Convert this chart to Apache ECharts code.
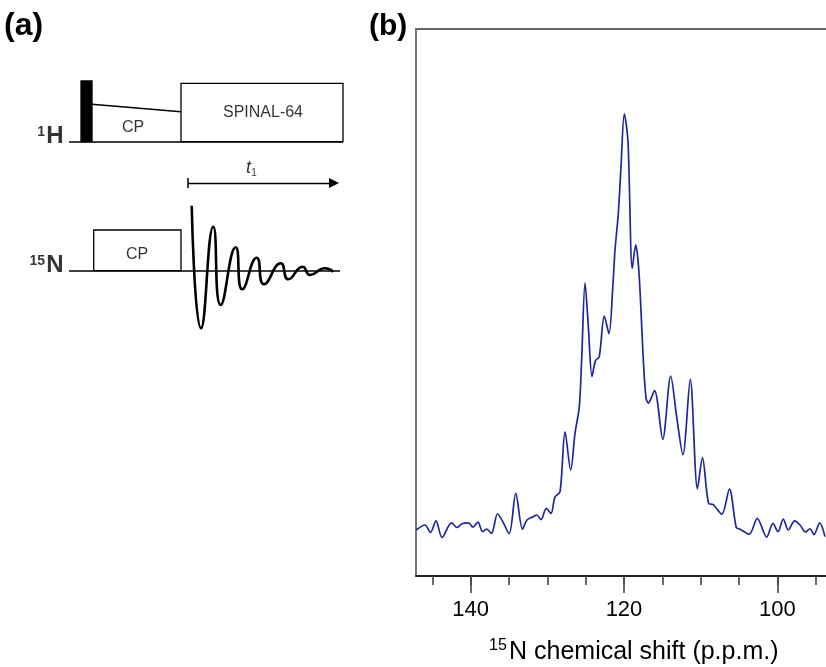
<!DOCTYPE html>
<html><head><meta charset="utf-8">
<script src="https://cdn.jsdelivr.net/npm/echarts@6/dist/echarts.min.js"></script>
<style>html,body{margin:0;padding:0;background:#fff}#c{width:826px;height:667px}</style>
</head><body><div id="c"></div>
<script>
// ---------- Panel (b): 15N CP spectrum ----------
const shiftPpm = [147.1,145.95,145.23,144.51,143.73,142.49,141.77,141.12,140.27,139.69,
  139.04,138.45,137.93,137.28,136.49,135.78,134.97,134.11,133.23,132.65,
  131.83,131.38,130.82,130.13,129.52,129.0,128.34,127.69,126.95,126.39,
  125.83,125.52,125.08,124.65,124.17,123.72,123.23,122.57,121.96,121.43,
  121.17,120.74,120.39,119.96,119.48,118.92,118.47,118.04,117.48,117.13,
  116.83,116.02,114.95,113.91,113.13,112.32,111.36,110.42,109.77,108.98,
  108.36,107.26,106.25,105.36,104.88,103.66,102.62,101.4,100.57,99.92,
  99.23,98.58,97.74,97.05,96.34,95.75,95.23,94.48,93.79];
const intensity = [0.0,1.2,-0.6,2.2,-1.8,1.7,0.6,1.5,1.7,0.7,
  1.9,-0.4,0.2,-0.8,3.9,1.9,-0.9,8.8,0.2,2.4,
  3.2,3.6,2.5,5.2,4.0,7.9,9.2,23.6,14.4,23.2,
  29.6,40.9,59.4,48.9,36.9,40.7,41.6,51.4,47.2,59.4,
  67.3,76.1,87.3,100,93.3,62.9,68.5,61.7,40.9,31.7,
  30.5,33.5,21.8,37.0,27.2,18.1,36.2,9.9,17.4,6.4,
  6.1,3.8,9.8,0.6,0.2,-1.0,2.8,-1.7,1.6,-0.4,
  2.6,0.0,2.2,1.2,-0.5,0.3,-1.1,1.7,-1.6];
const majorTicks = [100, 120, 140];
const minorTicks = [95, 100, 105, 110, 115, 120, 125, 130, 135, 140, 145];
const shiftRange = [93.66, 147.12];
const intensityRange = [-11.06, 120.4];

// ---------- Panel (a): pulse sequence schematic (diagram units) ----------
const channelLines = [   // [x0, y0, x1, y1]
  [69, 141.7, 343, 141.7],   // 1H channel
  [69, 270.7, 340, 270.7],   // 15N channel
  [92, 104.3, 181, 111.7],   // 1H CP ramp
  [188, 178, 188, 188]       // t1 start bar
];
const t1Arrow = [188, 183, 334, 183];
const pulseBoxes = [     // [x0, y0, x1, y1, filled]
  [81, 81, 92, 141.7, 1],     // 90 degree pulse
  [181, 83.3, 343, 141.7, 0], // SPINAL-64 decoupling
  [93.7, 230, 181, 270.7, 0]  // 15N CP
];
const fidTrace = [[191.7,205.7],[201,328.3],[213.3,226.7],[220.7,305],[235.7,247.3],
  [242.3,289.3],[256.7,257.7],[264,284.3],[280.7,263.3],[288.3,279.3],
  [302.7,266.7],[310,275],[325,268.3],[333.3,271.7]];
const schematicText = [  // [text, x, y, kind]
  ['CP', 133, 128, 'box'],
  ['SPINAL-64', 263, 113, 'box'],
  ['CP', 137, 255, 'box'],
  ['H', 63.5, 136, 'nucleus'],
  ['1', 45, 132, 'sup'],
  ['N', 63.5, 265.5, 'nucleus'],
  ['15', 45, 261.5, 'sup'],
  ['t', 248.5, 168, 'tvar'],
  ['1', 254, 173.5, 'sub']
];

const FONT = '"Liberation Sans", Arial, Helvetica, sans-serif';
const kindStyle = {
  box: {fontSize: 16, fontWeight: 'normal', fontStyle: 'normal', align: 'center'},
  nucleus: {fontSize: 24, fontWeight: 'bold', fontStyle: 'normal', align: 'right'},
  sup: {fontSize: 14, fontWeight: 'bold', fontStyle: 'normal', align: 'right'},
  tvar: {fontSize: 18, fontWeight: 'normal', fontStyle: 'italic', align: 'center'},
  sub: {fontSize: 10, fontWeight: 'normal', fontStyle: 'normal', align: 'center'}
};

const chart = echarts.init(document.getElementById('c'), null, {renderer: 'canvas'});

const specData = shiftPpm.map((s, i) => [s, intensity[i]]);

const option = {
  backgroundColor: '#fff',
  animation: false,
  grid: [
    {left: 416, top: 29, width: 410, height: 547, containLabel: false},
    {left: 0, top: 0, width: 400, height: 340, containLabel: false}
  ],
  xAxis: [
    { // bottom axis with minor ticks
      gridIndex: 0, type: 'value', position: 'bottom', inverse: true,
      min: shiftRange[0], max: shiftRange[1],
      axisLine: {show: true, onZero: false, lineStyle: {color: '#222', width: 1.8}},
      axisTick: {show: true, customValues: minorTicks, length: 9, lineStyle: {color: '#444', width: 1.6}},
      axisLabel: {show: false}, splitLine: {show: false}
    },
    { // major ticks and labels
      gridIndex: 0, type: 'value', position: 'bottom', inverse: true,
      min: shiftRange[0], max: shiftRange[1],
      axisLine: {show: false, onZero: false},
      axisTick: {show: true, customValues: majorTicks, length: 17, lineStyle: {color: '#444', width: 1.6}},
      axisLabel: {show: true, customValues: majorTicks, margin: 23, fontSize: 22, color: '#000', fontFamily: FONT},
      splitLine: {show: false}
    },
    { // top frame line
      gridIndex: 0, type: 'value', position: 'top', inverse: true,
      min: shiftRange[0], max: shiftRange[1],
      axisLine: {show: true, onZero: false, lineStyle: {color: '#666', width: 1.8}},
      axisTick: {show: false}, axisLabel: {show: false}, splitLine: {show: false}
    },
    { // schematic
      gridIndex: 1, type: 'value', min: 0, max: 400, show: false
    }
  ],
  yAxis: [
    {
      gridIndex: 0, type: 'value', min: intensityRange[0], max: intensityRange[1],
      axisLine: {show: true, onZero: false, lineStyle: {color: '#666', width: 1.8}},
      axisTick: {show: false}, axisLabel: {show: false}, splitLine: {show: false}
    },
    {
      gridIndex: 1, type: 'value', min: 0, max: 340, inverse: true, show: false
    }
  ],
  series: [
    {
      type: 'line', xAxisIndex: 0, yAxisIndex: 0, data: specData,
      smooth: 0.3, symbol: 'none', clip: true,
      lineStyle: {color: '#20279b', width: 1.7}
    },
    {
      type: 'custom', xAxisIndex: 3, yAxisIndex: 1, data: pulseBoxes, z: 2,
      renderItem: function (params, api) {
        const p0 = api.coord([api.value(0), api.value(1)]);
        const p1 = api.coord([api.value(2), api.value(3)]);
        const filled = api.value(4) === 1;
        return {
          type: 'rect',
          shape: {x: p0[0], y: p0[1], width: p1[0] - p0[0], height: p1[1] - p0[1]},
          style: {fill: filled ? '#000' : '#fff', stroke: '#000', lineWidth: 1.3}
        };
      }
    },
    {
      type: 'lines', coordinateSystem: 'cartesian2d', xAxisIndex: 3, yAxisIndex: 1, z: 3,
      polyline: false, symbol: 'none',
      data: channelLines.map(l => ({coords: [[l[0], l[1]], [l[2], l[3]]]})),
      lineStyle: {color: '#000', width: 1.5, opacity: 1, curveness: 0}
    },
    {
      type: 'lines', coordinateSystem: 'cartesian2d', xAxisIndex: 3, yAxisIndex: 1, z: 3,
      polyline: false, symbol: ['none', 'triangle'], symbolSize: [0, 10],
      data: [{coords: [[t1Arrow[0], t1Arrow[1]], [t1Arrow[2], t1Arrow[3]]]}],
      lineStyle: {color: '#000', width: 1.3, opacity: 1, curveness: 0}
    },
    {
      type: 'line', xAxisIndex: 3, yAxisIndex: 1, data: fidTrace, z: 3,
      smooth: 0.55, symbol: 'none',
      lineStyle: {color: '#000', width: 2.6}
    },
    {
      type: 'scatter', xAxisIndex: 3, yAxisIndex: 1, symbolSize: 0, z: 4,
      data: schematicText.map(t => {
        const k = kindStyle[t[3]];
        return {
          value: [t[1], t[2]],
          label: {
            show: true, position: 'inside', formatter: t[0],
            fontFamily: FONT, fontSize: k.fontSize, fontWeight: k.fontWeight,
            fontStyle: k.fontStyle, align: k.align, verticalAlign: 'middle', color: '#000'
          }
        };
      })
    }
  ],
  graphic: [
    {type: 'text', x: 4, y: 26, style: {text: '(a)', font: 'bold 32px ' + FONT, fill: '#000', align: 'left', verticalAlign: 'middle'}},
    {type: 'text', x: 369, y: 27, style: {text: '(b)', font: 'bold 30px ' + FONT, fill: '#000', align: 'left', verticalAlign: 'middle'}},
    {type: 'text', x: 489, y: 646, style: {text: '15', font: '16px ' + FONT, fill: '#000', align: 'left', verticalAlign: 'middle'}},
    {type: 'text', x: 509, y: 652, style: {text: 'N chemical shift (p.p.m.)', font: '25px ' + FONT, fill: '#000', align: 'left', verticalAlign: 'middle'}}
  ]
};
chart.setOption(option);
</script>
</body></html>
